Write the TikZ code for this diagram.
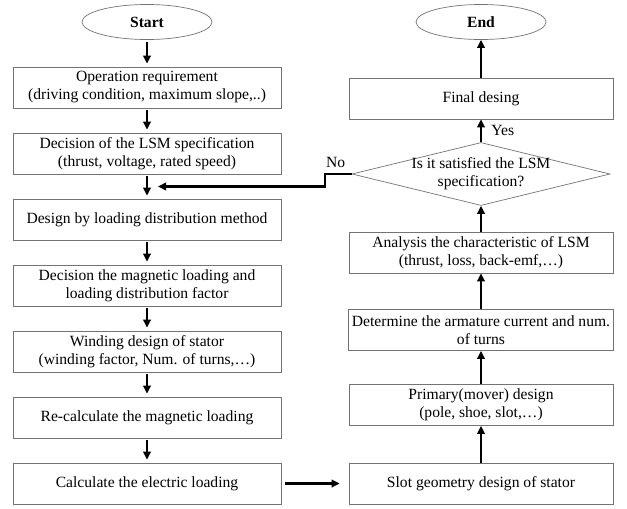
\documentclass[tikz,border=0pt]{standalone}
\usepackage{fontspec}
\setmainfont{Liberation Serif}
\usepackage{tikz}
\usetikzlibrary{shapes.geometric, arrows.meta}

\begin{document}
\begin{tikzpicture}[x=1pt, y=-1pt,
		font=\fontsize{15.6}{18}\selectfont,
		block/.style={draw=black!55, line width=0.7pt, align=center, minimum height=41pt},
		lblock/.style={block, minimum width=268pt},
		rblock/.style={block, minimum width=264pt},
		terminal/.style={draw=black!55, line width=0.7pt, ellipse, minimum width=130pt, minimum height=35pt, font=\fontsize{15.6}{18}\selectfont\bfseries},
		flow/.style={line width=2.1pt, -{Triangle[length=8pt, width=7.5pt]}}]
		\useasboundingbox (0,0) rectangle (627,509);
		\def\Lx{147};
		\def\Rx{481};
		
		% left column
		\node[terminal] (start) at (\Lx,22) {Start};
		\node[lblock] (req) at (\Lx,87.5) {Operation requirement\\(driving condition, maximum slope,..)};
		\node[lblock] (spec) at (\Lx,153.5) {Decision of the LSM specification\\(thrust, voltage, rated speed)};
		\node[lblock] (method) at (\Lx,219.5) {Design by loading distribution method};
		\node[lblock] (magload) at (\Lx,285.5) {Decision the magnetic loading and\\loading distribution factor};
		\node[lblock] (winding) at (\Lx,351.5) {Winding design of stator\\(winding factor, Num. of turns,…)};
		\node[lblock] (recalc) at (\Lx,417.5) {Re-calculate the magnetic loading};
		\node[lblock] (elec) at (\Lx,483.5) {Calculate the electric loading};
		
		% right column
		\node[rblock] (slot) at (\Rx,483.5) {Slot geometry design of stator};
		\node[rblock] (mover) at (\Rx,405) {Primary(mover) design\\(pole, shoe, slot,…)};
		\node[rblock] (current) at (\Rx,330) {Determine the armature current and num.\\of turns};
		\node[rblock] (analysis) at (\Rx,252.5) {Analysis the characteristic of LSM\\(thrust, loss, back-emf,…)};
		\node[diamond, draw=black!55, line width=0.7pt, minimum width=258pt, minimum height=63pt, inner sep=0pt] (check) at (\Rx,174) {};
		\node[align=center] (checktext) at (check) {Is it satisfied the LSM\\specification?};
		\node[rblock] (final) at (\Rx,98.5) {Final desing};
		\node[terminal] (end) at (\Rx,22) {End};
		
		\coordinate (back) at (158,186.5);
		
		\begin{scope}[flow, shorten <=2pt, shorten >=3pt]
		\draw (start) -- (req);
		\draw (req) -- (spec);
		\draw (spec) -- (method);
		\draw (method) -- (magload);
		\draw (magload) -- (winding);
		\draw (winding) -- (recalc);
		\draw (recalc) -- (elec);
		\end{scope}
		
		\draw[flow, shorten <=4pt, shorten >=9pt] (elec) -- (slot);
		
		\begin{scope}[flow]
		\draw (slot) -- (mover);
		\draw (mover) -- (current);
		\draw (current) -- (analysis);
		\draw (analysis) -- (check);
		\draw (check) -- node [right, xshift=6pt] {Yes} (final);
		\draw (final) -- (end);
		\draw (check.west) -- ++(-27,0) node [above, xshift=11pt, yshift=2pt] {No} |- (back);
		\end{scope}
	\end{tikzpicture}
\end{document}
